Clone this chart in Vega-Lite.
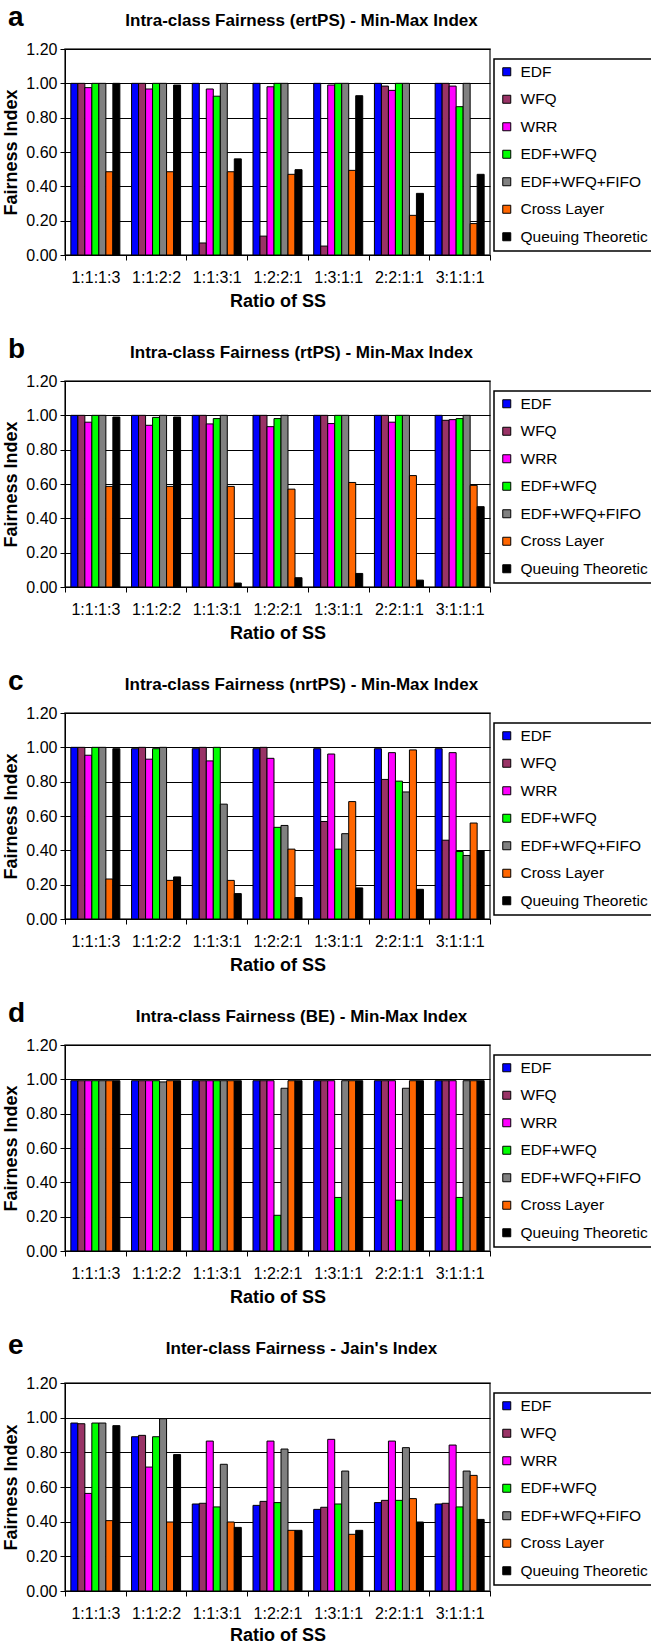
{
  "$schema": "https://vega.github.io/schema/vega-lite/v6.json",
  "padding": {"left": 2, "right": 1, "top": 4, "bottom": 0},
  "spacing": 25,
  "datasets": {
    "a": [
      {"g":"1:1:1:3","s":"EDF","v":1.0},{"g":"1:1:1:3","s":"WFQ","v":1.0},{"g":"1:1:1:3","s":"WRR","v":0.975},{"g":"1:1:1:3","s":"EDF+WFQ","v":1.0},{"g":"1:1:1:3","s":"EDF+WFQ+FIFO","v":1.0},{"g":"1:1:1:3","s":"Cross Layer","v":0.485},{"g":"1:1:1:3","s":"Queuing Theoretic","v":1.0},
      {"g":"1:1:2:2","s":"EDF","v":1.0},{"g":"1:1:2:2","s":"WFQ","v":1.0},{"g":"1:1:2:2","s":"WRR","v":0.967},{"g":"1:1:2:2","s":"EDF+WFQ","v":1.0},{"g":"1:1:2:2","s":"EDF+WFQ+FIFO","v":1.0},{"g":"1:1:2:2","s":"Cross Layer","v":0.485},{"g":"1:1:2:2","s":"Queuing Theoretic","v":0.99},
      {"g":"1:1:3:1","s":"EDF","v":1.0},{"g":"1:1:3:1","s":"WFQ","v":0.07},{"g":"1:1:3:1","s":"WRR","v":0.967},{"g":"1:1:3:1","s":"EDF+WFQ","v":0.925},{"g":"1:1:3:1","s":"EDF+WFQ+FIFO","v":1.0},{"g":"1:1:3:1","s":"Cross Layer","v":0.485},{"g":"1:1:3:1","s":"Queuing Theoretic","v":0.56},
      {"g":"1:2:2:1","s":"EDF","v":1.0},{"g":"1:2:2:1","s":"WFQ","v":0.11},{"g":"1:2:2:1","s":"WRR","v":0.98},{"g":"1:2:2:1","s":"EDF+WFQ","v":1.0},{"g":"1:2:2:1","s":"EDF+WFQ+FIFO","v":1.0},{"g":"1:2:2:1","s":"Cross Layer","v":0.47},{"g":"1:2:2:1","s":"Queuing Theoretic","v":0.497},
      {"g":"1:3:1:1","s":"EDF","v":1.0},{"g":"1:3:1:1","s":"WFQ","v":0.052},{"g":"1:3:1:1","s":"WRR","v":0.99},{"g":"1:3:1:1","s":"EDF+WFQ","v":1.0},{"g":"1:3:1:1","s":"EDF+WFQ+FIFO","v":1.0},{"g":"1:3:1:1","s":"Cross Layer","v":0.493},{"g":"1:3:1:1","s":"Queuing Theoretic","v":0.928},
      {"g":"2:2:1:1","s":"EDF","v":1.0},{"g":"2:2:1:1","s":"WFQ","v":0.984},{"g":"2:2:1:1","s":"WRR","v":0.959},{"g":"2:2:1:1","s":"EDF+WFQ","v":1.0},{"g":"2:2:1:1","s":"EDF+WFQ+FIFO","v":1.0},{"g":"2:2:1:1","s":"Cross Layer","v":0.231},{"g":"2:2:1:1","s":"Queuing Theoretic","v":0.359},
      {"g":"3:1:1:1","s":"EDF","v":1.0},{"g":"3:1:1:1","s":"WFQ","v":1.0},{"g":"3:1:1:1","s":"WRR","v":0.984},{"g":"3:1:1:1","s":"EDF+WFQ","v":0.864},{"g":"3:1:1:1","s":"EDF+WFQ+FIFO","v":1.0},{"g":"3:1:1:1","s":"Cross Layer","v":0.183},{"g":"3:1:1:1","s":"Queuing Theoretic","v":0.47}
    ],
    "b": [
      {"g":"1:1:1:3","s":"EDF","v":1.0},{"g":"1:1:1:3","s":"WFQ","v":1.0},{"g":"1:1:1:3","s":"WRR","v":0.96},{"g":"1:1:1:3","s":"EDF+WFQ","v":1.0},{"g":"1:1:1:3","s":"EDF+WFQ+FIFO","v":1.0},{"g":"1:1:1:3","s":"Cross Layer","v":0.586},{"g":"1:1:1:3","s":"Queuing Theoretic","v":0.99},
      {"g":"1:1:2:2","s":"EDF","v":1.0},{"g":"1:1:2:2","s":"WFQ","v":1.0},{"g":"1:1:2:2","s":"WRR","v":0.942},{"g":"1:1:2:2","s":"EDF+WFQ","v":0.988},{"g":"1:1:2:2","s":"EDF+WFQ+FIFO","v":1.0},{"g":"1:1:2:2","s":"Cross Layer","v":0.586},{"g":"1:1:2:2","s":"Queuing Theoretic","v":0.99},
      {"g":"1:1:3:1","s":"EDF","v":1.0},{"g":"1:1:3:1","s":"WFQ","v":1.0},{"g":"1:1:3:1","s":"WRR","v":0.95},{"g":"1:1:3:1","s":"EDF+WFQ","v":0.981},{"g":"1:1:3:1","s":"EDF+WFQ+FIFO","v":1.0},{"g":"1:1:3:1","s":"Cross Layer","v":0.586},{"g":"1:1:3:1","s":"Queuing Theoretic","v":0.023},
      {"g":"1:2:2:1","s":"EDF","v":1.0},{"g":"1:2:2:1","s":"WFQ","v":1.0},{"g":"1:2:2:1","s":"WRR","v":0.934},{"g":"1:2:2:1","s":"EDF+WFQ","v":0.981},{"g":"1:2:2:1","s":"EDF+WFQ+FIFO","v":1.0},{"g":"1:2:2:1","s":"Cross Layer","v":0.57},{"g":"1:2:2:1","s":"Queuing Theoretic","v":0.054},
      {"g":"1:3:1:1","s":"EDF","v":1.0},{"g":"1:3:1:1","s":"WFQ","v":1.0},{"g":"1:3:1:1","s":"WRR","v":0.952},{"g":"1:3:1:1","s":"EDF+WFQ","v":1.0},{"g":"1:3:1:1","s":"EDF+WFQ+FIFO","v":1.0},{"g":"1:3:1:1","s":"Cross Layer","v":0.609},{"g":"1:3:1:1","s":"Queuing Theoretic","v":0.079},
      {"g":"2:2:1:1","s":"EDF","v":1.0},{"g":"2:2:1:1","s":"WFQ","v":1.0},{"g":"2:2:1:1","s":"WRR","v":0.96},{"g":"2:2:1:1","s":"EDF+WFQ","v":1.0},{"g":"2:2:1:1","s":"EDF+WFQ+FIFO","v":1.0},{"g":"2:2:1:1","s":"Cross Layer","v":0.649},{"g":"2:2:1:1","s":"Queuing Theoretic","v":0.04},
      {"g":"3:1:1:1","s":"EDF","v":1.0},{"g":"3:1:1:1","s":"WFQ","v":0.971},{"g":"3:1:1:1","s":"WRR","v":0.975},{"g":"3:1:1:1","s":"EDF+WFQ","v":0.981},{"g":"3:1:1:1","s":"EDF+WFQ+FIFO","v":1.0},{"g":"3:1:1:1","s":"Cross Layer","v":0.592},{"g":"3:1:1:1","s":"Queuing Theoretic","v":0.468}
    ],
    "c": [
      {"g":"1:1:1:3","s":"EDF","v":1.0},{"g":"1:1:1:3","s":"WFQ","v":1.0},{"g":"1:1:1:3","s":"WRR","v":0.954},{"g":"1:1:1:3","s":"EDF+WFQ","v":1.0},{"g":"1:1:1:3","s":"EDF+WFQ+FIFO","v":1.0},{"g":"1:1:1:3","s":"Cross Layer","v":0.233},{"g":"1:1:1:3","s":"Queuing Theoretic","v":0.992},
      {"g":"1:1:2:2","s":"EDF","v":0.992},{"g":"1:1:2:2","s":"WFQ","v":1.0},{"g":"1:1:2:2","s":"WRR","v":0.931},{"g":"1:1:2:2","s":"EDF+WFQ","v":0.992},{"g":"1:1:2:2","s":"EDF+WFQ+FIFO","v":1.0},{"g":"1:1:2:2","s":"Cross Layer","v":0.225},{"g":"1:1:2:2","s":"Queuing Theoretic","v":0.245},
      {"g":"1:1:3:1","s":"EDF","v":0.992},{"g":"1:1:3:1","s":"WFQ","v":1.0},{"g":"1:1:3:1","s":"WRR","v":0.921},{"g":"1:1:3:1","s":"EDF+WFQ","v":1.0},{"g":"1:1:3:1","s":"EDF+WFQ+FIFO","v":0.669},{"g":"1:1:3:1","s":"Cross Layer","v":0.225},{"g":"1:1:3:1","s":"Queuing Theoretic","v":0.148},
      {"g":"1:2:2:1","s":"EDF","v":0.992},{"g":"1:2:2:1","s":"WFQ","v":1.0},{"g":"1:2:2:1","s":"WRR","v":0.936},{"g":"1:2:2:1","s":"EDF+WFQ","v":0.534},{"g":"1:2:2:1","s":"EDF+WFQ+FIFO","v":0.545},{"g":"1:2:2:1","s":"Cross Layer","v":0.407},{"g":"1:2:2:1","s":"Queuing Theoretic","v":0.125},
      {"g":"1:3:1:1","s":"EDF","v":0.992},{"g":"1:3:1:1","s":"WFQ","v":0.568},{"g":"1:3:1:1","s":"WRR","v":0.961},{"g":"1:3:1:1","s":"EDF+WFQ","v":0.407},{"g":"1:3:1:1","s":"EDF+WFQ+FIFO","v":0.497},{"g":"1:3:1:1","s":"Cross Layer","v":0.684},{"g":"1:3:1:1","s":"Queuing Theoretic","v":0.181},
      {"g":"2:2:1:1","s":"EDF","v":0.992},{"g":"2:2:1:1","s":"WFQ","v":0.813},{"g":"2:2:1:1","s":"WRR","v":0.969},{"g":"2:2:1:1","s":"EDF+WFQ","v":0.803},{"g":"2:2:1:1","s":"EDF+WFQ+FIFO","v":0.74},{"g":"2:2:1:1","s":"Cross Layer","v":0.985},{"g":"2:2:1:1","s":"Queuing Theoretic","v":0.173},
      {"g":"3:1:1:1","s":"EDF","v":0.992},{"g":"3:1:1:1","s":"WFQ","v":0.459},{"g":"3:1:1:1","s":"WRR","v":0.969},{"g":"3:1:1:1","s":"EDF+WFQ","v":0.393},{"g":"3:1:1:1","s":"EDF+WFQ+FIFO","v":0.37},{"g":"3:1:1:1","s":"Cross Layer","v":0.559},{"g":"3:1:1:1","s":"Queuing Theoretic","v":0.399}
    ],
    "d": [
      {"g":"1:1:1:3","s":"EDF","v":0.992},{"g":"1:1:1:3","s":"WFQ","v":0.992},{"g":"1:1:1:3","s":"WRR","v":0.992},{"g":"1:1:1:3","s":"EDF+WFQ","v":0.992},{"g":"1:1:1:3","s":"EDF+WFQ+FIFO","v":0.992},{"g":"1:1:1:3","s":"Cross Layer","v":0.992},{"g":"1:1:1:3","s":"Queuing Theoretic","v":0.992},
      {"g":"1:1:2:2","s":"EDF","v":0.992},{"g":"1:1:2:2","s":"WFQ","v":0.992},{"g":"1:1:2:2","s":"WRR","v":0.992},{"g":"1:1:2:2","s":"EDF+WFQ","v":0.992},{"g":"1:1:2:2","s":"EDF+WFQ+FIFO","v":0.985},{"g":"1:1:2:2","s":"Cross Layer","v":0.992},{"g":"1:1:2:2","s":"Queuing Theoretic","v":0.992},
      {"g":"1:1:3:1","s":"EDF","v":0.992},{"g":"1:1:3:1","s":"WFQ","v":0.992},{"g":"1:1:3:1","s":"WRR","v":0.992},{"g":"1:1:3:1","s":"EDF+WFQ","v":0.992},{"g":"1:1:3:1","s":"EDF+WFQ+FIFO","v":0.992},{"g":"1:1:3:1","s":"Cross Layer","v":0.992},{"g":"1:1:3:1","s":"Queuing Theoretic","v":0.992},
      {"g":"1:2:2:1","s":"EDF","v":0.992},{"g":"1:2:2:1","s":"WFQ","v":0.992},{"g":"1:2:2:1","s":"WRR","v":0.992},{"g":"1:2:2:1","s":"EDF+WFQ","v":0.208},{"g":"1:2:2:1","s":"EDF+WFQ+FIFO","v":0.948},{"g":"1:2:2:1","s":"Cross Layer","v":0.992},{"g":"1:2:2:1","s":"Queuing Theoretic","v":0.992},
      {"g":"1:3:1:1","s":"EDF","v":0.992},{"g":"1:3:1:1","s":"WFQ","v":0.992},{"g":"1:3:1:1","s":"WRR","v":0.992},{"g":"1:3:1:1","s":"EDF+WFQ","v":0.312},{"g":"1:3:1:1","s":"EDF+WFQ+FIFO","v":0.992},{"g":"1:3:1:1","s":"Cross Layer","v":0.992},{"g":"1:3:1:1","s":"Queuing Theoretic","v":0.992},
      {"g":"2:2:1:1","s":"EDF","v":0.992},{"g":"2:2:1:1","s":"WFQ","v":0.992},{"g":"2:2:1:1","s":"WRR","v":0.992},{"g":"2:2:1:1","s":"EDF+WFQ","v":0.296},{"g":"2:2:1:1","s":"EDF+WFQ+FIFO","v":0.948},{"g":"2:2:1:1","s":"Cross Layer","v":0.992},{"g":"2:2:1:1","s":"Queuing Theoretic","v":0.992},
      {"g":"3:1:1:1","s":"EDF","v":0.992},{"g":"3:1:1:1","s":"WFQ","v":0.992},{"g":"3:1:1:1","s":"WRR","v":0.992},{"g":"3:1:1:1","s":"EDF+WFQ","v":0.312},{"g":"3:1:1:1","s":"EDF+WFQ+FIFO","v":0.992},{"g":"3:1:1:1","s":"Cross Layer","v":0.992},{"g":"3:1:1:1","s":"Queuing Theoretic","v":0.992}
    ],
    "e": [
      {"g":"1:1:1:3","s":"EDF","v":0.969},{"g":"1:1:1:3","s":"WFQ","v":0.965},{"g":"1:1:1:3","s":"WRR","v":0.563},{"g":"1:1:1:3","s":"EDF+WFQ","v":0.969},{"g":"1:1:1:3","s":"EDF+WFQ+FIFO","v":0.969},{"g":"1:1:1:3","s":"Cross Layer","v":0.406},{"g":"1:1:1:3","s":"Queuing Theoretic","v":0.954},
      {"g":"1:1:2:2","s":"EDF","v":0.89},{"g":"1:1:2:2","s":"WFQ","v":0.898},{"g":"1:1:2:2","s":"WRR","v":0.715},{"g":"1:1:2:2","s":"EDF+WFQ","v":0.89},{"g":"1:1:2:2","s":"EDF+WFQ+FIFO","v":0.994},{"g":"1:1:2:2","s":"Cross Layer","v":0.398},{"g":"1:1:2:2","s":"Queuing Theoretic","v":0.787},
      {"g":"1:1:3:1","s":"EDF","v":0.502},{"g":"1:1:3:1","s":"WFQ","v":0.506},{"g":"1:1:3:1","s":"WRR","v":0.865},{"g":"1:1:3:1","s":"EDF+WFQ","v":0.485},{"g":"1:1:3:1","s":"EDF+WFQ+FIFO","v":0.731},{"g":"1:1:3:1","s":"Cross Layer","v":0.398},{"g":"1:1:3:1","s":"Queuing Theoretic","v":0.367},
      {"g":"1:2:2:1","s":"EDF","v":0.494},{"g":"1:2:2:1","s":"WFQ","v":0.517},{"g":"1:2:2:1","s":"WRR","v":0.865},{"g":"1:2:2:1","s":"EDF+WFQ","v":0.51},{"g":"1:2:2:1","s":"EDF+WFQ+FIFO","v":0.819},{"g":"1:2:2:1","s":"Cross Layer","v":0.35},{"g":"1:2:2:1","s":"Queuing Theoretic","v":0.35},
      {"g":"1:3:1:1","s":"EDF","v":0.471},{"g":"1:3:1:1","s":"WFQ","v":0.483},{"g":"1:3:1:1","s":"WRR","v":0.875},{"g":"1:3:1:1","s":"EDF+WFQ","v":0.502},{"g":"1:3:1:1","s":"EDF+WFQ+FIFO","v":0.692},{"g":"1:3:1:1","s":"Cross Layer","v":0.327},{"g":"1:3:1:1","s":"Queuing Theoretic","v":0.35},
      {"g":"2:2:1:1","s":"EDF","v":0.51},{"g":"2:2:1:1","s":"WFQ","v":0.523},{"g":"2:2:1:1","s":"WRR","v":0.865},{"g":"2:2:1:1","s":"EDF+WFQ","v":0.523},{"g":"2:2:1:1","s":"EDF+WFQ+FIFO","v":0.827},{"g":"2:2:1:1","s":"Cross Layer","v":0.533},{"g":"2:2:1:1","s":"Queuing Theoretic","v":0.398},
      {"g":"3:1:1:1","s":"EDF","v":0.502},{"g":"3:1:1:1","s":"WFQ","v":0.506},{"g":"3:1:1:1","s":"WRR","v":0.842},{"g":"3:1:1:1","s":"EDF+WFQ","v":0.485},{"g":"3:1:1:1","s":"EDF+WFQ+FIFO","v":0.692},{"g":"3:1:1:1","s":"Cross Layer","v":0.667},{"g":"3:1:1:1","s":"Queuing Theoretic","v":0.413}
    ]
  },
  "resolve": {"legend": {"color": "independent"}},
  "vconcat": [
    {
      "title": {"text": "a", "fontSize": 28, "fontWeight": "bold", "anchor": "start", "frame": "bounds", "dy": 21, "dx": 6, "offset": 0, "color": "#000"},
      "resolve": {"legend": {"color": "independent"}},
      "vconcat": [{
        "data": {"name": "a"},
        "title": {"text": "Intra-class Fairness (ertPS) - Min-Max Index"},
        "width": 425, "height": 206,
        "mark": {"type": "bar", "stroke": "#000", "strokeWidth": 1},
        "encoding": {
          "x": {"field": "g", "type": "nominal", "title": "Ratio of SS", "scale": {"paddingInner": 0, "paddingOuter": 0}, "axis": {"labelAngle": 0, "tickBand": "extent"}},
          "xOffset": {"field": "s", "type": "nominal", "sort": ["EDF","WFQ","WRR","EDF+WFQ","EDF+WFQ+FIFO","Cross Layer","Queuing Theoretic"], "scale": {"paddingInner": 0, "paddingOuter": 0.835}},
          "y": {"field": "v", "type": "quantitative", "title": "Fairness Index", "scale": {"domain": [0, 1.2], "nice": false}, "axis": {"values": [0, 0.2, 0.4, 0.6, 0.8, 1.0, 1.2], "format": ".2f"}},
          "color": {"field": "s", "type": "nominal", "scale": {"domain": ["EDF","WFQ","WRR","EDF+WFQ","EDF+WFQ+FIFO","Cross Layer","Queuing Theoretic"], "range": ["#0000FF","#993366","#FF00FF","#00FF00","#808080","#FF6600","#000000"]}, "legend": {"title": null}}
        }
      }]
    },
    {
      "title": {"text": "b", "fontSize": 28, "fontWeight": "bold", "anchor": "start", "frame": "bounds", "dy": 21, "dx": 6, "offset": 0, "color": "#000"},
      "resolve": {"legend": {"color": "independent"}},
      "vconcat": [{
        "data": {"name": "b"},
        "title": {"text": "Intra-class Fairness (rtPS) - Min-Max Index"},
        "width": 425, "height": 206,
        "mark": {"type": "bar", "stroke": "#000", "strokeWidth": 1},
        "encoding": {
          "x": {"field": "g", "type": "nominal", "title": "Ratio of SS", "scale": {"paddingInner": 0, "paddingOuter": 0}, "axis": {"labelAngle": 0, "tickBand": "extent"}},
          "xOffset": {"field": "s", "type": "nominal", "sort": ["EDF","WFQ","WRR","EDF+WFQ","EDF+WFQ+FIFO","Cross Layer","Queuing Theoretic"], "scale": {"paddingInner": 0, "paddingOuter": 0.835}},
          "y": {"field": "v", "type": "quantitative", "title": "Fairness Index", "scale": {"domain": [0, 1.2], "nice": false}, "axis": {"values": [0, 0.2, 0.4, 0.6, 0.8, 1.0, 1.2], "format": ".2f"}},
          "color": {"field": "s", "type": "nominal", "scale": {"domain": ["EDF","WFQ","WRR","EDF+WFQ","EDF+WFQ+FIFO","Cross Layer","Queuing Theoretic"], "range": ["#0000FF","#993366","#FF00FF","#00FF00","#808080","#FF6600","#000000"]}, "legend": {"title": null}}
        }
      }]
    },
    {
      "title": {"text": "c", "fontSize": 28, "fontWeight": "bold", "anchor": "start", "frame": "bounds", "dy": 21, "dx": 6, "offset": 0, "color": "#000"},
      "resolve": {"legend": {"color": "independent"}},
      "vconcat": [{
        "data": {"name": "c"},
        "title": {"text": "Intra-class Fairness (nrtPS) - Min-Max Index"},
        "width": 425, "height": 206,
        "mark": {"type": "bar", "stroke": "#000", "strokeWidth": 1},
        "encoding": {
          "x": {"field": "g", "type": "nominal", "title": "Ratio of SS", "scale": {"paddingInner": 0, "paddingOuter": 0}, "axis": {"labelAngle": 0, "tickBand": "extent"}},
          "xOffset": {"field": "s", "type": "nominal", "sort": ["EDF","WFQ","WRR","EDF+WFQ","EDF+WFQ+FIFO","Cross Layer","Queuing Theoretic"], "scale": {"paddingInner": 0, "paddingOuter": 0.835}},
          "y": {"field": "v", "type": "quantitative", "title": "Fairness Index", "scale": {"domain": [0, 1.2], "nice": false}, "axis": {"values": [0, 0.2, 0.4, 0.6, 0.8, 1.0, 1.2], "format": ".2f"}},
          "color": {"field": "s", "type": "nominal", "scale": {"domain": ["EDF","WFQ","WRR","EDF+WFQ","EDF+WFQ+FIFO","Cross Layer","Queuing Theoretic"], "range": ["#0000FF","#993366","#FF00FF","#00FF00","#808080","#FF6600","#000000"]}, "legend": {"title": null}}
        }
      }]
    },
    {
      "title": {"text": "d", "fontSize": 28, "fontWeight": "bold", "anchor": "start", "frame": "bounds", "dy": 21, "dx": 6, "offset": 0, "color": "#000"},
      "resolve": {"legend": {"color": "independent"}},
      "vconcat": [{
        "data": {"name": "d"},
        "title": {"text": "Intra-class Fairness (BE) - Min-Max Index"},
        "width": 425, "height": 206,
        "mark": {"type": "bar", "stroke": "#000", "strokeWidth": 1},
        "encoding": {
          "x": {"field": "g", "type": "nominal", "title": "Ratio of SS", "scale": {"paddingInner": 0, "paddingOuter": 0}, "axis": {"labelAngle": 0, "tickBand": "extent"}},
          "xOffset": {"field": "s", "type": "nominal", "sort": ["EDF","WFQ","WRR","EDF+WFQ","EDF+WFQ+FIFO","Cross Layer","Queuing Theoretic"], "scale": {"paddingInner": 0, "paddingOuter": 0.835}},
          "y": {"field": "v", "type": "quantitative", "title": "Fairness Index", "scale": {"domain": [0, 1.2], "nice": false}, "axis": {"values": [0, 0.2, 0.4, 0.6, 0.8, 1.0, 1.2], "format": ".2f"}},
          "color": {"field": "s", "type": "nominal", "scale": {"domain": ["EDF","WFQ","WRR","EDF+WFQ","EDF+WFQ+FIFO","Cross Layer","Queuing Theoretic"], "range": ["#0000FF","#993366","#FF00FF","#00FF00","#808080","#FF6600","#000000"]}, "legend": {"title": null}}
        }
      }]
    },
    {
      "title": {"text": "e", "fontSize": 28, "fontWeight": "bold", "anchor": "start", "frame": "bounds", "dy": 21, "dx": 6, "offset": 0, "color": "#000"},
      "resolve": {"legend": {"color": "independent"}},
      "vconcat": [{
        "data": {"name": "e"},
        "title": {"text": "Inter-class Fairness - Jain's Index", "offset": 17},
        "width": 425, "height": 208,
        "mark": {"type": "bar", "stroke": "#000", "strokeWidth": 1},
        "encoding": {
          "x": {"field": "g", "type": "nominal", "title": "Ratio of SS", "scale": {"paddingInner": 0, "paddingOuter": 0}, "axis": {"labelAngle": 0, "tickBand": "extent", "titlePadding": 5}},
          "xOffset": {"field": "s", "type": "nominal", "sort": ["EDF","WFQ","WRR","EDF+WFQ","EDF+WFQ+FIFO","Cross Layer","Queuing Theoretic"], "scale": {"paddingInner": 0, "paddingOuter": 0.835}},
          "y": {"field": "v", "type": "quantitative", "title": "Fairness Index", "scale": {"domain": [0, 1.2], "nice": false}, "axis": {"values": [0, 0.2, 0.4, 0.6, 0.8, 1.0, 1.2], "format": ".2f"}},
          "color": {"field": "s", "type": "nominal", "scale": {"domain": ["EDF","WFQ","WRR","EDF+WFQ","EDF+WFQ+FIFO","Cross Layer","Queuing Theoretic"], "range": ["#0000FF","#993366","#FF00FF","#00FF00","#808080","#FF6600","#000000"]}, "legend": {"title": null}}
        }
      }]
    }
  ],
  "config": {
    "font": "Liberation Sans",
    "view": {"stroke": "#404040", "strokeWidth": 1.5},
    "title": {"fontSize": 17, "fontWeight": "bold", "color": "#000", "anchor": "middle", "offset": 11, "dx": 24},
    "axis": {"labelFont": "Liberation Sans", "labelFontSize": 16, "labelColor": "#000", "titleFont": "Liberation Sans", "titleFontSize": 18, "titleFontWeight": "bold", "titleColor": "#000", "tickColor": "#000", "domainColor": "#000", "tickSize": 5, "labelPadding": 3},
    "axisY": {"gridColor": "#000", "gridWidth": 1, "gridOpacity": 1, "titlePadding": 5},
    "axisX": {"grid": false, "titlePadding": 7, "labelPadding": 9},
    "legend": {"orient": "none", "legendX": 429, "legendY": 10, "strokeColor": "#000", "strokeWidth": 1.5, "padding": 5, "fillColor": "#fff", "symbolType": "square", "symbolSize": 64, "symbolStrokeColor": "#000", "symbolStrokeWidth": 1, "symbolOpacity": 1, "labelFontSize": 15.5, "labelColor": "#000", "labelFont": "Liberation Sans", "rowPadding": 10.5, "labelOffset": 6, "labelLimit": 300}
  }
}
